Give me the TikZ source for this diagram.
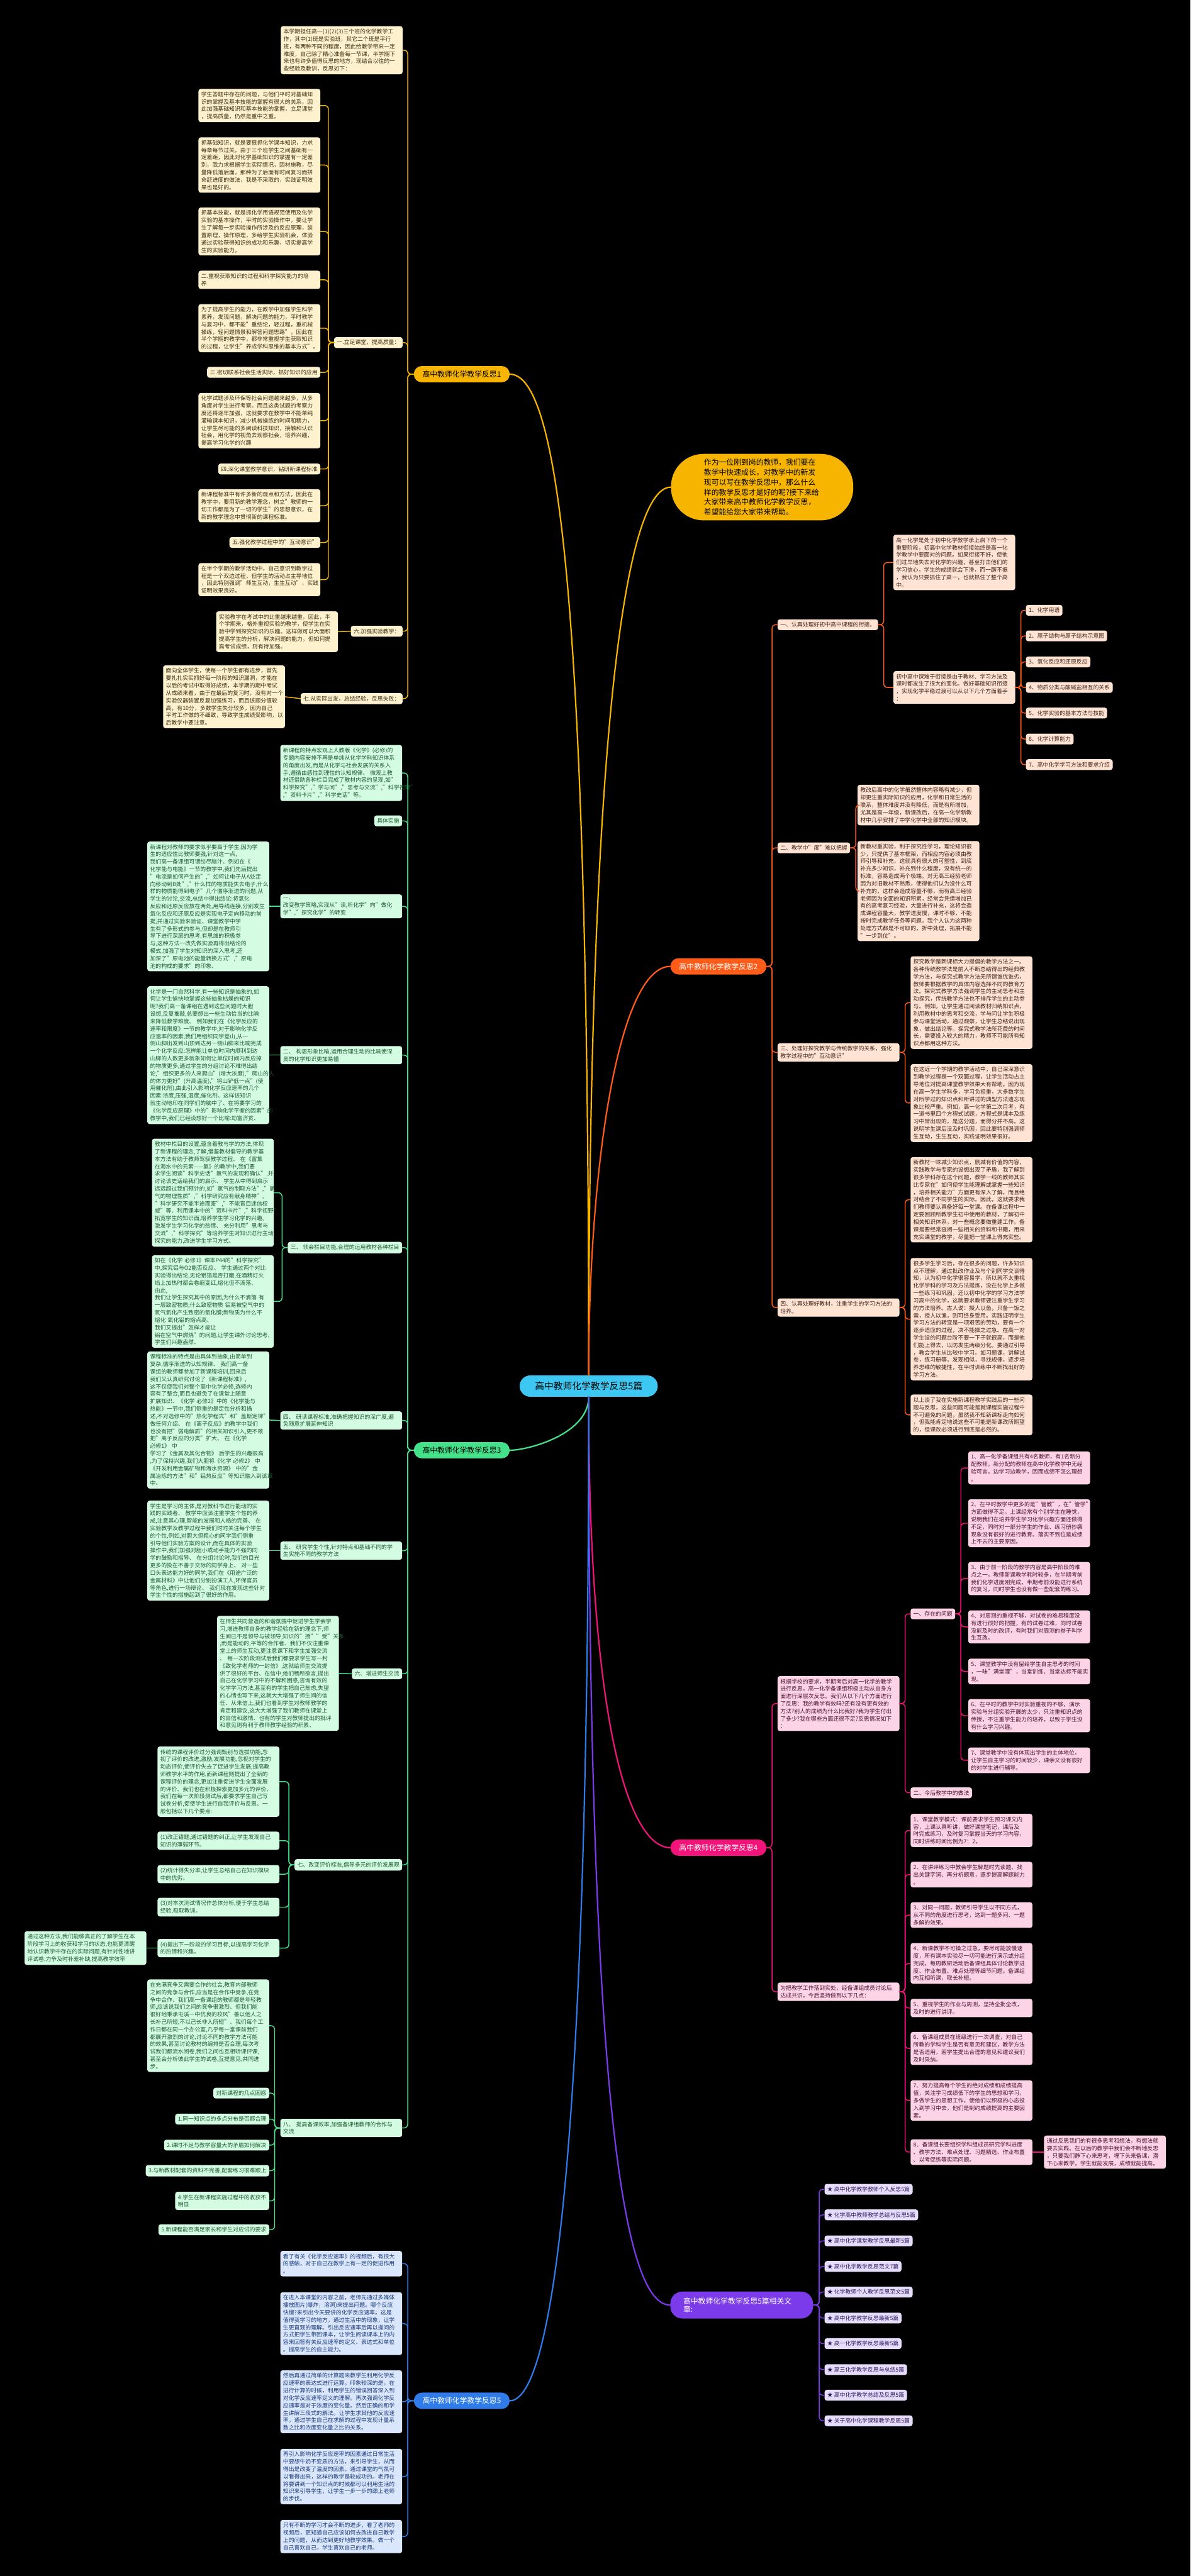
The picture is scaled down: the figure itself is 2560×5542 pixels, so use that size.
\documentclass[tikz,border=0pt]{standalone}
\usepackage{fontspec}
\setmainfont{Noto Sans CJK SC}
\definecolor{rootc}{HTML}{3CC8F2}
\definecolor{yel}{HTML}{F7B500}
\definecolor{yelL}{HTML}{FDF1CE}
\definecolor{yelT}{HTML}{3B2F14}
\definecolor{ora}{HTML}{FF5C1A}
\definecolor{oraL}{HTML}{FFE3D3}
\definecolor{oraT}{HTML}{3D2418}
\definecolor{grn}{HTML}{45E08A}
\definecolor{grnL}{HTML}{D4FCE2}
\definecolor{grnT}{HTML}{1C5A32}
\definecolor{pnk}{HTML}{F3147A}
\definecolor{pnkL}{HTML}{FDD3E6}
\definecolor{pnkT}{HTML}{4A1330}
\definecolor{blu}{HTML}{2F7CE8}
\definecolor{bluL}{HTML}{D9E6FC}
\definecolor{bluT}{HTML}{1B3A78}
\definecolor{pur}{HTML}{7C3BEA}
\definecolor{purL}{HTML}{E6DDFC}
\definecolor{purT}{HTML}{2D1A5C}
\usetikzlibrary{positioning}

\begin{document}
\begin{tikzpicture}[x=1pt,y=-1pt,line cap=round,
  leaf/.style={rounded corners=5pt,inner xsep=6pt,inner ysep=6pt,align=left,font=\fontsize{12}{16}\selectfont},
  wide/.style={text width=250pt},
  pill/.style={rounded corners=17pt,minimum height=35pt,minimum width=206pt,font=\fontsize{16}{18}\selectfont},
  lfY/.style={leaf,fill=yelL,text=yelT},
  lfO/.style={leaf,fill=oraL,text=oraT},
  lfG/.style={leaf,fill=grnL,text=grnT},
  lfP/.style={leaf,fill=pnkL,text=pnkT},
  lfB/.style={leaf,fill=bluL,text=bluT},
  lfU/.style={leaf,fill=purL,text=purT},
  lnY/.style={draw=yel,line width=2pt,rounded corners=8pt},
  lnO/.style={draw=ora,line width=2pt,rounded corners=8pt},
  lnG/.style={draw=grn,line width=2pt,rounded corners=8pt},
  lnP/.style={draw=pnk,line width=2pt,rounded corners=8pt},
  lnB/.style={draw=blu,line width=2pt,rounded corners=8pt},
  lnU/.style={draw=pur,line width=2pt,rounded corners=8pt}]

\fill[black] (0,0) rectangle (2560,5542);

% centre and main branches
\node[pill,fill=rootc,text=black,rounded corners=23pt,minimum width=297pt,minimum height=46pt,font=\fontsize{20}{22}\selectfont] (T) at (1266,2982) {高中教师化学教学反思5篇};
\node[fill=yel,text=black,rounded corners=70pt,minimum height=143pt,inner xsep=71pt,inner ysep=7pt,text width=250pt,align=left,font=\fontsize{16}{21.5}\selectfont] (I) at (1639,1048) {作为一位刚到岗的教师，我们要在\\教学中快速成长，对教学中的新发\\现可以写在教学反思中，那么什么\\样的教学反思才是好的呢?接下来给\\大家带来高中教师化学教学反思，\\希望能给您大家带来帮助。};
\node[pill,fill=yel,text=black] (A1) at (993,805) {高中教师化学教学反思1};
\node[pill,fill=ora,text=white] (A2) at (1545,2079) {高中教师化学教学反思2};
\node[pill,fill=grn,text=black] (A3) at (993,3120) {高中教师化学教学反思3};
\node[pill,fill=pnk,text=white] (A4) at (1545,3975) {高中教师化学教学反思4};
\node[pill,fill=blu,text=white] (A5) at (993,5165) {高中教师化学教学反思5};
\node[pill,fill=pur,text=white,rounded corners=26pt,minimum height=58pt,minimum width=307pt,text width=251pt,inner xsep=28pt,align=left] (A6) at (1595,4959) {高中教师化学教学反思5篇相关文\\章:};

\draw[yel,line width=3pt] (T.north) .. controls +(0,-1659) and +(105,0) .. (A1.east);
\draw[yel,line width=3pt] (T.north) .. controls +(0,-1259) and +(-110,0) .. (I.west);
\draw[ora,line width=3pt] (T.north) .. controls +(0,-460) and +(-110,0) .. (A2.west);
\draw[grn,line width=3pt] (T.south) .. controls +(0,80) and +(40,0) .. (A3.east);
\draw[pnk,line width=3pt] (T.south) .. controls +(0,700) and +(-90,0) .. (A4.west);
\draw[pur,line width=3pt] (T.south) .. controls +(0,1600) and +(-90,0) .. (A6.west);
\draw[blu,line width=3pt] (T.south) .. controls +(0,1700) and +(85,0) .. (A5.east);

% branch 1
\node[lfY,wide,anchor=east] (a0) at (866,108) {本学期担任高一(1)(2)(3)三个班的化学教学工\\作，其中(1)班是实验班，其它二个班是平行\\班，有两种不同的程度，因此给教学带来一定\\难度，自己除了精心准备每一节课，半学期下\\来也有许多值得反思的地方，现结合以往的一\\些经验及教训，反思如下：};
\node[lfY,anchor=east] (a1) at (866,737) {一.立足课堂，提高质量：};
\node[lfY,anchor=east] (a2) at (866,1358) {六.加强实验教学：};
\node[lfY,anchor=east] (a3) at (866,1503) {七.从实际出发，总结经验，反思失败：};
\node[lfY,wide,anchor=east] (a11) at (689,227) {学生答题中存在的问题，与他们平时对基础知\\识的掌握及基本技能的掌握有很大的关系，因\\此加强基础知识和基本技能的掌握，立足课堂\\，提高质量，仍然是重中之重。};
\node[lfY,wide,anchor=east] (a12) at (689,355) {抓基础知识，就是要狠抓化学课本知识，力求\\每章每节过关。由于三个班学生之间基础有一\\定差距，因此对化学基础知识的掌握有一定差\\别，我力求根据学生实际情况，因材施教，尽\\量降低落后面。那种为了后面有时间复习而拼\\命赶进度的做法，我是不采取的，实践证明效\\果也是好的。};
\node[lfY,wide,anchor=east] (a13) at (689,498) {抓基本技能，就是抓化学用语规范使用及化学\\实验的基本操作，平时的实验操作中，要让学\\生了解每一步实验操作所涉及的反应原理，装\\置原理，操作原理，多给学生实验机会，体验\\通过实验获得知识的成功和乐趣，切实提高学\\生的实验能力。};
\node[lfY,wide,anchor=east] (a14) at (689,602) {二.重视获取知识的过程和科学探究能力的培\\养};
\node[lfY,wide,anchor=east] (a15) at (689,706) {为了提高学生的能力，在教学中加强学生科学\\素养，发现问题，解决问题的能力，平时教学\\与复习中，都不能"重结论，轻过程，重机械\\操练，轻问题情景和解答问题思路"，因此在\\半个学期的教学中，都非常重视学生获取知识\\的过程，让学生"养成学科思维的基本方式"。};
\node[lfY,anchor=east] (a16) at (689,801) {三.密切联系社会生活实际，抓好知识的应用};
\node[lfY,wide,anchor=east] (a17) at (689,905) {化学试题涉及环保等社会问题越来越多，从多\\角度对学生进行考察。而且这类试题的考察力\\度还将逐年加强，这就要求在教学中不能单纯\\灌输课本知识，减少机械操练的时间和精力，\\让学生尽可能的多阅读科技知识，接触和认识\\社会，用化学的视角去观察社会，培养兴趣，\\提高学习化学的兴趣};
\node[lfY,anchor=east] (a18) at (689,1009) {四.深化课堂教学意识，钻研新课程标准};
\node[lfY,wide,anchor=east] (a19) at (689,1088) {新课程标准中有许多新的观点和方法，因此在\\教学中，要用新的教学理念，树立"教师的一\\切工作都是为了一切的学生"的思想意识，在\\新的教学理念中贯彻新的课程标准。};
\node[lfY,anchor=east] (a1a) at (689,1167) {五.强化教学过程中的"互动意识"};
\node[lfY,wide,anchor=east] (a1b) at (689,1247) {在半个学期的教学活动中，自己意识到教学过\\程是一个双边过程，但学生的活动占主导地位\\，因此特别强调"师生互动，生生互动"，实践\\证明效果良好。};
\node[lfY,wide,anchor=east] (a21) at (727,1359) {实验教学在考试中的比重越来越重，因此，半\\个学期来，格外重视实验的教学，使学生在实\\验中学到探究知识的乐趣。这样做可以大面积\\提高学生的分析，解决问题的能力，但如何提\\高考试成绩，则有待加强。};
\node[lfY,wide,anchor=east] (a31) at (613,1499) {面向全体学生，使每一个学生都有进步，首先\\要扎扎实实抓好每一阶段的知识漏洞，才能在\\以后的考试中取得好成绩，本学期的期中考试\\从成绩来看，由于在最后的复习时，没有对一个\\实验仪器装置反复加强练习，而且该题分值较\\高，有10分，多数学生失分较多，因为自己\\平时工作做的不细致，导致学生成绩受影响，以\\后教学中要注意。};

\foreach \n in {a0,a1,a2,a3} \draw[lnY] (A1.west) -- ++(-13,0) |- (\n.east);
\foreach \n in {a11,a12,a13,a14,a15,a16,a17,a18,a19,a1a,a1b} \draw[lnY] (a1.west) -- ++(-12,0) |- (\n.east);
\draw[lnY] (a2.west) -- (a21.east);
\draw[lnY] (a3.west) -- (a31.east);

% branch 2
\node[lfO,anchor=west] (b1) at (1672,1344) {一、认真处理好初中高中课程的衔接。};
\node[lfO,anchor=west] (b2) at (1672,1824) {二、教学中"度"难以把握};
\node[lfO,wide,anchor=west] (b3) at (1672,2264) {三、处理好探究教学与传统教学的关系，强化\\教学过程中的"互动意识"};
\node[lfO,wide,anchor=west] (b4) at (1672,2813) {四、认真处理好教材，注重学生的学习方法的\\培养。};
\node[lfO,wide,anchor=west] (b11) at (1921,1210) {高一化学是处于初中化学教学承上启下的一个\\重要阶段，初高中化学教材衔接始终是高一化\\学教学中要面对的问题。如果衔接不好，使他\\们过早地失去对化学的兴趣，甚至打击他们的\\学习信心，学生的成绩就会下滑，而一蹶不振\\，我认为只要抓住了高一，也就抓住了整个高\\中。};
\node[lfO,wide,anchor=west] (b12) at (1921,1479) {初中高中课难于衔接是由于教材、学习方法及\\课时都发生了很大的变化。做好基础知识衔接\\，实现化学平稳过渡可以从以下几个方面着手\\：};
\node[lfO,anchor=west] (b121) at (2206,1313) {1、化学用语};
\node[lfO,anchor=west] (b122) at (2206,1368) {2、原子结构与原子结构示意图};
\node[lfO,anchor=west] (b123) at (2206,1424) {3、氧化反应和还原反应};
\node[lfO,anchor=west] (b124) at (2206,1479) {4、物质分类与酸碱盐相互的关系};
\node[lfO,anchor=west] (b125) at (2206,1534) {5、化学实验的基本方法与技能};
\node[lfO,anchor=west] (b126) at (2206,1590) {6、化学计算能力};
\node[lfO,anchor=west] (b127) at (2206,1645) {7、高中化学学习方法和要求介绍};
\node[lfO,wide,anchor=west] (b21) at (1844,1732) {教改后高中的化学虽然整体内容略有减少，但\\却更注重实际知识的应用，化学和日常生活的\\联系，整体难度并没有降低，而是有所增加，\\尤其是高一年级，新课改后，在高一化学新教\\材中几乎安排了中学化学中全部的知识模块。};
\node[lfO,wide,anchor=west] (b22) at (1844,1917) {新教材重实验，利于探究性学习，理论知识很\\少，只提供了基本框架，而相应内容必须由教\\师引导和补充，这就具有很大的可塑性，到底\\补充多少知识，补充到什么程度，没有统一的\\标准，容易造成两个极端。对无高三经验老师\\因为对旧教材不熟悉，使得他们认为没什么可\\补充的，这样会造成容量不够，而有高三经验\\老师因为全面的知识积累，经常会凭借增加已\\有的高考复习经验，大量进行补充，这将会造\\成课程容量大，教学进度慢，课时不够，不能\\按时完成教学任务等问题。我个人认为这两种\\处理方式都是不可取的，折中处理，拓展不能\\"一步到位"。};
\node[lfO,wide,anchor=west] (b31) at (1958,2157) {探究教学是新课标大力提倡的教学方法之一。\\各种传统教学法是前人不断总结得出的经典教\\学方法，与探究式教学方法无所谓谁优谁劣，\\教师要根据教学的具体内容选择不同的教育方\\法。探究式教学方法强调学生的主动思考和主\\动探究，传统教学方法也不排斥学生的主动参\\与。例如，让学生通过阅读教材归纳知识点，\\利用教材中的思考和交流，学与问让学生积极\\参与课堂活动，通过观察，让学生总结说出现\\象，做出结论等。探究式教学法所花费的时间\\长，需要投入较大的精力，教师不可能所有知\\识点都用这种方法。};
\node[lfO,wide,anchor=west] (b32) at (1958,2373) {在这近一个学期的教学活动中，自己深深意识\\到教学过程是一个双面过程，让学生活动占主\\导地位对提高课堂教学效果大有帮助。因为现\\在高一学生学科多，学习负担重，大多数学生\\对所学过的知识点和所讲过的典型方法遗忘现\\象比较严重。例如，高一化学第二次月考，有\\一道书里四个方程式试题，方程式是课本及练\\习中常出现的，是送分题，而得分并不高。这\\说明学生课后没及时巩固，因此要特别强调师\\生互动，生生互动，实践证明效果很好。};
\node[lfO,wide,anchor=west] (b41) at (1958,2581) {新教材一味减少知识点，删减有价值的内容，\\实践教学与专家的设想出现了矛盾，我了解到\\很多学科存在这个问题，教学一线的教师其实\\比专家在"如何使学生能理解或掌握一些知识\\，培养相关能力"方面更有深入了解，而且绝\\对结合了不同学生的实际。因此，这就要求我\\们教师要认真备好每一堂课。在备课过程中一\\定要回顾所教学生初中使用的教材，了解初中\\相关知识体系，对一些概念要做重建工作。备\\课是要经常查阅一些相关的资料和书籍，用来\\充实课堂的教学，尽量把一堂课上得充实些。};
\node[lfO,wide,anchor=west] (b42) at (1958,2838) {很多学生学习后，存在很多的问题，许多知识\\点不理解，通过批改作业及与个别同学交谈得\\知，认为初中化学很容易学，所以就不太重视\\化学学科的学习及方法提炼，没在化学上多做\\一些练习和巩固，还以初中化学的学习方法学\\习高中的化学，这就要求教师要注重学生学习\\的方法培养。古人说：授人以鱼，只备一饭之\\需，授人以渔，则可终身受用。实践证明学生\\学习方法的转变是一项艰苦的劳动，要有一个\\逐步适应的过程，决不能操之过急。在高一对\\学生设的问题台阶不要一下子就很高，而是他\\们能上得去，以防发生两级分化。要通过引导\\，教会学生从比较中学习。如习题课，讲解试\\卷，练习册等，发现相似，寻找规律，逐步培\\养思维的敏捷性，在平时训练中不断找出好的\\学习方法。};
\node[lfO,wide,anchor=west] (b43) at (1958,3044) {以上谈了我在实施新课程教学实践后的一些问\\题与反思，这些问题可能是就课程实施过程中\\不可避免的问题，虽然我不知新课标走向如何\\，但我能肯定地说这些不可能是新课改所期望\\的，但课改必须进行到底是必然的。};

\foreach \n in {b1,b2,b3,b4} \draw[lnO] (A2.east) -- ++(12,0) |- (\n.west);
\foreach \n in {b11,b12} \draw[lnO] (b1.east) -- ++(12,0) |- (\n.west);
\foreach \n in {b121,b122,b123,b124,b125,b126,b127} \draw[lnO] (b12.east) -- ++(12,0) |- (\n.west);
\foreach \n in {b21,b22} \draw[lnO] (b2.east) -- ++(12,0) |- (\n.west);
\foreach \n in {b31,b32} \draw[lnO] (b3.east) -- ++(12,0) |- (\n.west);
\foreach \n in {b41,b42,b43} \draw[lnO] (b4.east) -- ++(12,0) |- (\n.west);

% branch 3
\node[lfG,wide,anchor=east] (h1) at (865,1663) {新课程的特点宏观上人教版《化学》(必修)的\\专题内容安排不再是单纯从化学学科知识体系\\的角度出发,而是从化学与社会发展的关系入\\手,遵循由感性到理性的认知规律、 微观上教\\材还借助各种栏目完成了教材内容的呈现,如"\\科学探究","学与问","思考与交流","科学视野"\\,"资料卡片","科学史话"等。};
\node[lfG,anchor=east] (h2) at (865,1766) {具体实施};
\node[lfG,wide,anchor=east] (h3) at (865,1950) {一、 改变教学策略,实现从"读,听化学"向"做化\\学","探究化学"的转变};
\node[lfG,wide,anchor=east] (h4) at (865,2270) {二、 构思形象比喻,运用合理生动的比喻使深\\奥的化学知识更加易懂};
\node[lfG,anchor=east] (h5) at (865,2684) {三、 领会栏目功能,合理的运用教材各种栏目};
\node[lfG,wide,anchor=east] (h6) at (865,3056) {四、 研读课程标准,准确把握知识的深广度,避\\免随意扩展延伸知识};
\node[lfG,wide,anchor=east] (h7) at (865,3336) {五、 研究学生个性,针对特点和基础不同的学\\生实施不同的教学方法};
\node[lfG,anchor=east] (h8) at (865,3601) {六、增进师生交流};
\node[lfG,anchor=east] (h9) at (865,4012) {七、改变评价标准,倡导多元的评价发展观};
\node[lfG,wide,anchor=east] (h10) at (865,4578) {八、 提高备课效率,加强备课组教师的合作与\\交流};

\node[lfG,wide,anchor=east] (h31) at (579,1950) {新课程对教师的要求似乎要高于学生,因为学\\生的适应性比教师要强,针对这一点,\\我们高一备课组可谓绞尽脑汁、例如在《\\化学能与电能》一节的教学中,我们先后提出\\"电流是如何产生的","如何让电子从A处定\\向移动到B处","什么样的物质能失去电子,什么\\样的物质能得到电子"几个循序渐进的问题,从\\学生的讨论,交流,总结中得出结论:将氧化\\反应和还原反应放在两处,用导线连接,分别发生\\氧化反应和还原反应是实现电子定向移动的前\\提,并通过实验来验证、课堂教学中学\\生有了多形式的参与,但却是在教师引\\导下进行深层的思考,有思维的积极参\\与,这种方法一改先做实验再得出结论的\\模式,加强了学生对知识的深入思考,还\\加深了"原电池的能量转换方式","原电\\池的构成的要求"的印象、};
\node[lfG,wide,anchor=east] (h41) at (579,2270) {化学是一门自然科学,有一些知识是抽象的,如\\何让学生愉快地掌握这些抽象枯燥的知识\\呢?我们高一备课组在遇到这些问题时大胆\\设想,反复推敲,总要想出一些生动恰当的比喻\\来降低教学难度、 例如我们在《化学反应的\\速率和限度》一节的教学中,对于影响化学反\\应速率的因素,我们用组织同学登山,从一\\侧山脚出发到山顶到达另一侧山脚来比喻完成\\一个化学反应:怎样能让单位时间内顺利到达\\山脚的人数更多就象如何让单位时间内反应掉\\的物质更多,通过学生的分组讨论不难得出结\\论,"组织更多的人来爬山"(增大浓度),"爬山的人\\的体力更好"(升高温度),"将山铲低一点"(使\\用催化剂),由此引入影响化学反应速率的几个\\因素:浓度,压强,温度,催化剂、这样该知识\\就生动地印在同学们的脑中了、在将要学习的\\《化学反应原理》中的"影响化学平衡的因素"的\\教学中,我们已经设想好一个比喻:劫富济贫、};
\node[lfG,wide,anchor=east] (h51) at (589,2566) {教材中栏目的设置,蕴含着教与学的方法,体现\\了新课程的理念,了解,借鉴教材倡导的教学基\\本方法有助于教师驾驭教学过程、 在《富集\\在海水中的元素——氯》的教学中,我们要\\求学生阅读"科学史话"氯气的发现和确认",并\\讨论该史话给我们的启示、 学生从中得到启示\\远远超过我们预计的,如"氯气的制取方法","氯\\气的物理性质","科学研究应有献身精神",\\"科学研究不能半途而废","不能盲目迷信权\\威"等、利用课本中的"资料卡片","科学视野"\\拓宽学生的知识面,培养学生学习化学的兴趣,\\激发学生学习化学的热情、 充分利用"思考与\\交流","科学探究"等培养学生对知识进行主动\\探究的能力,改进学生学习方式、};
\node[lfG,wide,anchor=east] (h52) at (589,2800) {如在《化学 必修1》课本P44的"科学探究"\\中,探究铝与O2能否反应、 学生通过两个对比\\实验得出结论,无论铝箔是否打磨,在酒精灯火\\焰上加热时都会卷缩变红,熔化但不滴落、 由此,\\我们让学生探究其中的原因,为什么不滴落 有\\一层致密物质;什么致密物质 铝易被空气中的\\氧气氧化产生致密的氧化膜;新物质为什么不\\熔化 氧化铝的熔点高、 我们又提出"怎样才能让\\铝在空气中燃烧"的问题,让学生课外讨论思考,\\学生们兴趣盎然、};
\node[lfG,wide,anchor=east] (h61) at (579,3055) {课程标准的特点是由具体到抽象,由简单到\\复杂,循序渐进的认知规律、 我们高一备\\课组的教师都参加了新课程培训,回来后\\我们又认真研究讨论了《新课程标准》,\\这不仅使我们对整个高中化学必修,选修内\\容有了整合,而且也避免了在课堂上随意\\扩展知识、《化学 必修2》中的《化学能与\\热能》一节中,我们侧重的是定性分析和描\\述,不对选修中的"热化学程式"和"盖斯定律"\\做任何介绍、 在《离子反应》的教学中我们\\也没有把"弱电解质"的相关知识引入,更不敢\\把"离子反应的分类"扩大、 在《化学 必修1》 中\\学习了《金属及其化合物》 后学生的兴趣很高\\,为了保持兴趣,我们大胆将《化学 必修2》 中\\《开发利用金属矿物和海水资源》 中的"金\\属冶炼的方法"和"铝热反应"等知识融入到该章\\中、};
\node[lfG,wide,anchor=east] (h71) at (579,3336) {学生是学习的主体,是对教科书进行能动的实\\践的实践者、 教学中应该注重学生个性的养\\成,注意其心理,智能的发展和人格的完善、 在\\实验教学及教学过程中我们时时关注每个学生\\的个性,例如,对胆大但粗心的同学我们侧重\\引导他们实验方案的设计,而在具体的实验\\操作中,我们加强对胆小或动手能力不强的同\\学的鼓励和指导、 在分组讨论时,我们的目光\\更多的投在不善于交际的同学身上、 对一些\\口头表达能力好的同学,我们在《用途广泛的\\金属材料》中让他们分别扮演工人,环保官员\\等角色,进行一场辩论、 我们现在发现这些针对\\学生个性的措施起到了很好的作用。};
\node[lfG,wide,anchor=east] (h81) at (729,3600) {在师生共同营造的和谐氛围中促进学生学会学\\习,增进教师自身的教学经验在新的理念下,师\\生间已不是领导与被领导,知识的"授""受"关系\\,而是能动的,平等的合作者、我们不仅注重课\\堂上的师生互动,更注意课下和学生加强交流\\、 每一次阶段测试后我们都要求学生写一封\\《致化学老师的一封信》,这就给师生交流提\\供了很好的平台、在信中,他们畅所欲言,提出\\自己在化学学习中的不解和困惑,咨询有效的\\化学学习方法,甚至有的学生把自己焦虑,失望\\的心情也写下来,这就大大增强了师生间的信\\任、从来信上,我们也看到学生对教师教学的\\肯定和建议,这大大增强了我们教师在课堂上\\的自信和激情、也有的学生对教师提出的批评\\和意见则有利于教师教学经验的积累、};
\node[lfG,wide,anchor=east] (h91) at (601,3833) {传统的课程评价过分强调甄别与选拔功能,忽\\视了评价的改进,激励,发展功能,忽视对学生的\\动态评价,使评价失去了促进学生发展,提高教\\师教学水平的作用,而新课程则提出了全新的\\课程评价的理念,更加注重促进学生全面发展\\的评价、我们也在积极探索更加多元的评价、\\我们在每一次阶段测试后,都要求学生自己写\\试卷分析,促使学生进行自我评价与反思、一\\般包括以下几个要点:};
\node[lfG,wide,anchor=east] (h92) at (601,3960) {(1)改正错题,通过错题的纠正,让学生发现自己\\知识的薄弱环节。};
\node[lfG,wide,anchor=east] (h93) at (601,4032) {(2)统计得失分率,让学生总结自己在知识模块\\中的优劣。};
\node[lfG,wide,anchor=east] (h94) at (601,4103) {(3)对本次测试情况作总体分析,便于学生总结\\经验,吸取教训。};
\node[lfG,wide,anchor=east] (h95) at (601,4191) {(4)提出下一阶段的学习目标,以提高学习化学\\的热情和兴趣。};
\node[lfG,wide,anchor=east] (h951) at (315,4191) {通过这种方法,我们能够真正的了解学生在本\\阶段学习上的收获和学习的状态,也能更清醒\\地认识教学中存在的实际问题,有针对性地讲\\评试卷,力争及时补差补缺,提高教学效率};
\node[lfG,wide,anchor=east] (h101) at (579,4358) {在充满竞争又需要合作的社会,教育内部教师\\之间的竞争与合作,应当是在合作中竞争,在竞\\争中合作、我们高一备课组的教师都是年轻教\\师,应该说我们之间的竞争很激烈、但我们能\\很好地秉承屯溪一中优良的校风"善以他人之\\长补己所短,不以己长非人所短"、我们每个工\\作日都在同一个办公室,几乎每一堂课前我们\\都展开激烈的讨论,讨论不同的教学方法可能\\的效果,甚至讨论教材的编排是否合理,每次考\\试我们都流水阅卷,我们之间也互相听课评课,\\甚至会分析彼此学生的试卷,互提意见,共同进\\步。};
\node[lfG,anchor=east] (h102) at (579,4503) {对新课程的几点困惑};
\node[lfG,anchor=east] (h103) at (579,4559) {1.同一知识点的多点分布是否都合理};
\node[lfG,anchor=east] (h104) at (579,4615) {2.课时不足与教学容量大的矛盾如何解决};
\node[lfG,anchor=east] (h105) at (579,4670) {3.与新教材配套的资料不完善,配套练习很难跟上};
\node[lfG,anchor=east] (h106) at (579,4735) {4.学生在新课程实施过程中的收获不\\明显};
\node[lfG,anchor=east] (h107) at (579,4797) {5.新课程能否满足家长和学生对应试的要求};

\foreach \n in {h1,h2,h3,h4,h5,h6,h7,h8,h9,h10} \draw[lnG] (A3.west) -- ++(-13,0) |- (\n.east);
\draw[lnG] (h3.west) -- (h31.east);
\draw[lnG] (h4.west) -- (h41.east);
\foreach \n in {h51,h52} \draw[lnG] (h5.west) -- ++(-12,0) |- (\n.east);
\draw[lnG] (h6.west) -- (h61.east);
\draw[lnG] (h7.west) -- (h71.east);
\draw[lnG] (h8.west) -- (h81.east);
\foreach \n in {h91,h92,h93,h94,h95} \draw[lnG] (h9.west) -- ++(-12,0) |- (\n.east);
\draw[lnG] (h95.west) -- (h951.east);
\foreach \n in {h101,h102,h103,h104,h105,h106,h107} \draw[lnG] (h10.west) -- ++(-12,0) |- (\n.east);

% branch 4
\node[lfP,wide,anchor=west] (c1) at (1672,3665) {根据学校的要求，半期考后对高一化学的教学\\进行反思，高一化学备课组积极主动从自身方\\面进行深层次反思。我们从以下几个方面进行\\了反思：我的教学有效吗?还有没有更有效的\\方法?别人的成绩为什么比我好?我为学生付出\\了多少?我在哪些方面还很不足?反思情况如下\\：};
\node[lfP,anchor=west] (c11) at (1958,3472) {一、存在的问题};
\node[lfP,anchor=west] (c12) at (1958,3857) {二、今后教学中的做法};
\node[lfP,wide,anchor=west] (c111) at (2082,3158) {1、高一化学备课组共有4名教师，有1名新分\\配教师，新分配的教师在高中化学教学中无经\\验可言，边学习边教学，因而成绩不怎么理想\\。};
\node[lfP,wide,anchor=west] (c112) at (2082,3277) {2、在平时教学中更多的是"管教"，在"管学"\\方面做得不足。上课经常有个别学生在睡觉，\\说明我们在培养学生学习化学兴趣方面还做得\\不足，同时对一部分学生的作业、练习册抄袭\\现象没有很好的进行教育。落实不到位是成绩\\上不去的主要原因。};
\node[lfP,wide,anchor=west] (c113) at (2082,3396) {3、由于前一阶段的教学内容是高中阶段的难\\点之一，教师新课教学耗时较多，在半期考前\\我们化学进度刚完成，半期考前没能进行系统\\的复习，同时学生也没有做一些配套的练习。};
\node[lfP,wide,anchor=west] (c114) at (2082,3500) {4、对周测的重视不够，对试卷的难易程度没\\有进行很好的把握，有的试卷过难，同时试卷\\没能及时的改评，有时我们对周测的卷子叫学\\生互改。};
\node[lfP,wide,anchor=west] (c115) at (2082,3596) {5、课堂教学中没有留给学生自主思考的时间\\，一味"满堂灌"，当堂训练、当堂达标不能实\\现。};
\node[lfP,wide,anchor=west] (c116) at (2082,3691) {6、在平时的教学中对实验重视的不够，演示\\实验与分组实验开展的太少，只注重知识点的\\传授，不注重学生能力的培养，以致于学生没\\有什么学习兴趣。};
\node[lfP,wide,anchor=west] (c117) at (2082,3787) {7、课堂教学中没有体现出学生的主体地位，\\让学生自主学习的时间较少，课余又没有很好\\的对学生进行辅导。};
\node[lfP,wide,anchor=west] (c2) at (1672,4285) {为把教学工作落到实处，经备课组成员讨论后\\达成共识，今后坚持做到以下几点：};
\node[lfP,wide,anchor=west] (c21) at (1958,3938) {1、课堂教学模式：课前要求学生预习课文内\\容，上课认真听讲，做好课堂笔记，课后及\\时完成练习，及时复习掌握当天的学习内容，\\同时讲练时间比例为7：2。};
\node[lfP,wide,anchor=west] (c22) at (1958,4033) {2、在讲评练习中教会学生解题时先读题、找\\出关键字词、再分析题意，逐步提高解题能力\\。};
\node[lfP,wide,anchor=west] (c23) at (1958,4120) {3、对同一问题，教师引导学生以不同方式，\\从不同的角度进行思考，达到一题多问、一题\\多解的效果。};
\node[lfP,wide,anchor=west] (c24) at (1958,4224) {4、新课教学不可操之过急，要尽可能放慢速\\度，所有课本实验尽一切可能进行演示或分组\\完成。每周教研活动后备课组具体讨论教学进\\度、作业布置、难点处理等细节问题。备课组\\内互相听课，取长补短。};
\node[lfP,wide,anchor=west] (c25) at (1958,4320) {5、重视学生的作业与周测，坚持全批全改，\\及时的进行讲评。};
\node[lfP,wide,anchor=west] (c26) at (1958,4407) {6、备课组成员在班级进行一次调查，对自己\\所教的学科学生是否有意见和建议，教学方法\\是否适用，若学生提出合理的意见和建议我们\\及时采纳。};
\node[lfP,wide,anchor=west] (c27) at (1958,4519) {7、努力提高每个学生的绝对成绩和成绩提高\\值，关注学习成绩低下的学生的思想和学习，\\多做学生的思想工作，使他们以积极的心态投\\入到学习中去，他们是制约成绩提高的主要因\\素。};
\node[lfP,wide,anchor=west] (c28) at (1958,4630) {8、备课组长要组织学科组成员研究学科进度\\、教学方法、难点处理、习题精选、作业布置\\、以考促练等实际问题。};
\node[lfP,wide,anchor=west] (c281) at (2245,4630) {通过反思我们的有很多思考和想法，有想法就\\要去实践。在以后的教学中我们会不断地反思\\，只要我们静下心来思考，埋下头来备课，潜\\下心来教学，学生就能发展，成绩就能提高。};

\foreach \n in {c1,c2} \draw[lnP] (A4.east) -- ++(12,0) |- (\n.west);
\foreach \n in {c11,c12} \draw[lnP] (c1.east) -- ++(12,0) |- (\n.west);
\foreach \n in {c111,c112,c113,c114,c115,c116,c117} \draw[lnP] (c11.east) -- ++(12,0) |- (\n.west);
\foreach \n in {c21,c22,c23,c24,c25,c26,c27,c28} \draw[lnP] (c2.east) -- ++(12,0) |- (\n.west);
\draw[lnP] (c28.east) -- (c281.west);

% branch 5
\node[lfB,wide,anchor=east] (f1) at (865,4870) {看了有关《化学反应速率》的视频后，有很大\\的感触，对于自己在教学上有一定的促进作用\\。};
\node[lfB,wide,anchor=east] (f2) at (865,4999) {在进入本课堂的内容之前，老师先通过多媒体\\播放图片(爆炸，溶洞)来提出问题。哪个反应\\快慢?来引出今天要讲的化学反应速率。这是\\值得我学习的地方，通过生活中的现象，让学\\生更直观的理解。引出反应速率后再以提问的\\方式把学生带回课本，让学生阅读课本上的内\\容来回答有关反应速率的定义、表达式和单位\\。提高学生的自主能力。};
\node[lfB,wide,anchor=east] (f3) at (865,5167) {然后再通过简单的计算题来教学生利用化学反\\应速率的表达式进行运算。印象较深的是，在\\进行计算的时候，利用学生的错误回答深入到\\对化学反应速率定义的理解。再次强调化学反\\应速率是对于浓度的变化量。然后正确的和学\\生讲解三段式的解法。让学生求其他的反应速\\率，通过学生自己在求解的过程中发现计量系\\数之比和浓度变化量之比的关系。};
\node[lfB,wide,anchor=east] (f4) at (865,5328) {再引入影响化学反应速率的因素通过日常生活\\中要想牛奶不变质的方法，来引导学生，从而\\得出是改变了温度的因素。通过课堂的气氛可\\以看得出来，这样的教学是较成功的。老师在\\将要讲到一个知识点的时候都可以利用生活的\\知识来引导学生，让学生一步一步的跟上老师\\的步伐。};
\node[lfB,wide,anchor=east] (f5) at (865,5457) {只有不断的学习才会不断的进步，看了老师的\\视频后，更知道自己应该如何去改进自己教学\\上的问题，从而达到更好地教学效果。做一个\\自己喜欢自己，学生喜欢自己的老师。};

\foreach \n in {f1,f2,f3,f4,f5} \draw[lnB] (A5.west) -- ++(-13,0) |- (\n.east);

% branch 6
\node[lfU,anchor=west] (u1) at (1773,4710) {★ 高中化学教学教师个人反思5篇};
\node[lfU,anchor=west] (u2) at (1773,4765) {★ 化学高中教师教学总结与反思5篇};
\node[lfU,anchor=west] (u3) at (1773,4821) {★ 高中化学课堂教学反思最新5篇};
\node[lfU,anchor=west] (u4) at (1773,4876) {★ 高中化学教学反思范文7篇};
\node[lfU,anchor=west] (u5) at (1773,4931) {★ 化学教师个人教学反思范文5篇};
\node[lfU,anchor=west] (u6) at (1773,4987) {★ 高中化学教学反思最新5篇};
\node[lfU,anchor=west] (u7) at (1773,5042) {★ 高一化学教学反思最新5篇};
\node[lfU,anchor=west] (u8) at (1773,5098) {★ 高三化学教学反思与总结5篇};
\node[lfU,anchor=west] (u9) at (1773,5153) {★ 高中化学教学总结及反思5篇};
\node[lfU,anchor=west] (u10) at (1773,5208) {★ 关于高中化学课程教学反思5篇};

\foreach \n in {u1,u2,u3,u4,u5,u6,u7,u8,u9,u10} \draw[lnU] (A6.east) -- ++(13,0) |- (\n.west);
\end{tikzpicture}
\end{document}
